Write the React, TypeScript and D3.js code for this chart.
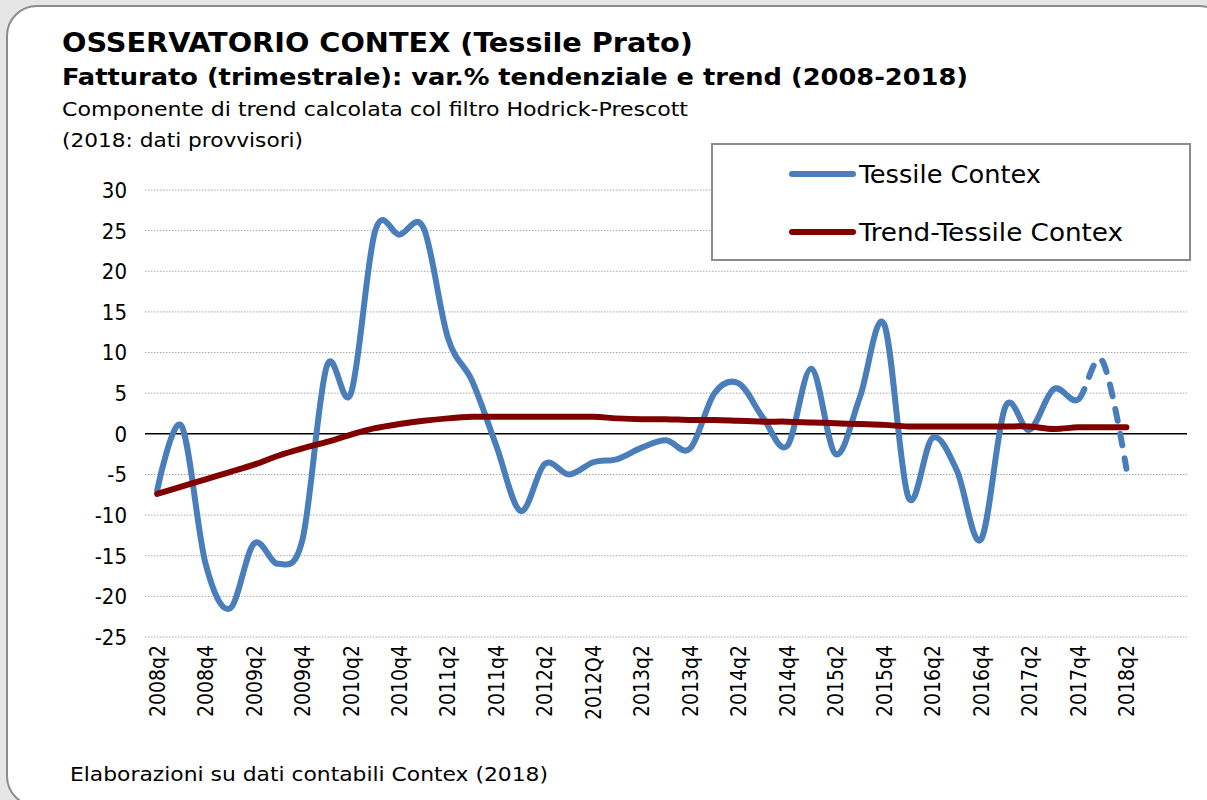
import React, { useEffect, useRef } from 'react';
import * as d3 from 'd3';

// quarters on the category axis (2008q2 .. 2018q2)
const quarters = [
  '2008q2', '2008q3', '2008q4', '2009q1', '2009q2', '2009q3', '2009q4', '2010q1',
  '2010q2', '2010q3', '2010q4', '2011q1', '2011q2', '2011q3', '2011q4', '2012q1',
  '2012q2', '2012q3', '2012Q4', '2013q1', '2013q2', '2013q3', '2013q4', '2014q1',
  '2014q2', '2014q3', '2014q4', '2015q1', '2015q2', '2015q3', '2015q4', '2016q1',
  '2016q2', '2016q3', '2016q4', '2017q1', '2017q2', '2017q3', '2017q4', '2018q1',
  '2018q2',
];
// two empty slots Excel leaves at the right end of the axis
const emptySlots = ['2018q3', '2018q4'];

const tessile = [
  -7.0, 1.0, -16.0, -21.5, -13.5, -16.0, -13.0, 8.3, 5.0, 25.0, 24.5, 25.3, 11.8, 6.5,
  -1.5, -9.5, -3.7, -5.0, -3.5, -3.1, -1.7, -0.8, -1.8, 5.0, 6.2, 2.0, -1.5, 8.0, -2.5,
  4.5, 13.5, -7.8, -0.5, -4.5, -13.0, 3.3, 0.5, 5.5, 4.2, 9.0, -4.3,
];

const trend = [
  -7.4, -6.5, -5.6, -4.7, -3.8, -2.7, -1.8, -1.0, -0.1, 0.7, 1.2, 1.6, 1.9, 2.1, 2.1,
  2.1, 2.1, 2.1, 2.1, 1.9, 1.8, 1.8, 1.7, 1.7, 1.6, 1.5, 1.5, 1.4, 1.3, 1.2, 1.1, 0.9,
  0.9, 0.9, 0.9, 0.9, 0.9, 0.6, 0.8, 0.8, 0.8,
];

const yTicks = [-25, -20, -15, -10, -5, 0, 5, 10, 15, 20, 25, 30];
const provisionalFrom = '2017q4';

const seriesNames = ['Tessile Contex', 'Trend-Tessile Contex'];
const BLUE = '#4a7ebb';
const RED = '#800000';
const FONT = '"DejaVu Sans Condensed", "DejaVu Sans", sans-serif';

export default function App() {
  const ref = useRef<SVGSVGElement>(null);

  useEffect(() => {
    const svg = d3.select(ref.current);
    svg.selectAll('*').remove();

    // card
    svg.append('rect').attr('width', 1207).attr('height', 800).attr('fill', '#e6e6e6');
    svg.append('rect')
      .attr('x', 7).attr('y', 6).attr('width', 1222).attr('height', 800)
      .attr('rx', 30).attr('ry', 30)
      .attr('fill', '#fff').attr('stroke', '#8c8c8c').attr('stroke-width', 2);

    // titles
    const titles = [
      { t: 'OSSERVATORIO CONTEX (Tessile Prato)', y: 52, size: 26, w: 631, bold: true },
      { t: 'Fatturato (trimestrale): var.% tendenziale e trend (2008-2018)', y: 85, size: 23, w: 906, bold: true },
      { t: 'Componente di trend calcolata col filtro Hodrick-Prescott', y: 116, size: 19.5, w: 626, bold: false },
      { t: '(2018: dati provvisori)', y: 147, size: 19.5, w: 241, bold: false },
    ];
    titles.forEach(d => {
      svg.append('text')
        .attr('x', 62).attr('y', d.y)
        .attr('font-family', FONT)
        .attr('font-size', d.size)
        .attr('font-weight', d.bold ? 'bold' : 'normal')
        .attr('textLength', d.w)
        .attr('lengthAdjust', 'spacingAndGlyphs')
        .text(d.t);
    });

    const x = d3.scaleBand<string>()
      .domain(quarters.concat(emptySlots))
      .range([145, 1187])
      .padding(0);
    const y = d3.scaleLinear().domain([-25, 30]).range([637, 190]);
    const cx = (q: string) => (x(q) as number) + x.bandwidth() / 2;

    // gridlines
    svg.append('g').selectAll('line')
      .data(yTicks.filter(v => v !== 0))
      .enter().append('line')
      .attr('x1', 145).attr('x2', 1187)
      .attr('y1', d => y(d)).attr('y2', d => y(d))
      .attr('stroke', '#a6a6a6')
      .attr('stroke-width', 1)
      .attr('stroke-dasharray', '1.5,1.5');

    // y tick labels
    svg.append('g').selectAll('text')
      .data(yTicks)
      .enter().append('text')
      .attr('x', 127)
      .attr('y', d => y(d))
      .attr('dy', '0.36em')
      .attr('text-anchor', 'end')
      .attr('font-family', FONT)
      .attr('font-size', 22)
      .text(d => d);

    // zero line
    svg.append('line')
      .attr('x1', 145).attr('x2', 1187)
      .attr('y1', y(0)).attr('y2', y(0))
      .attr('stroke', '#000').attr('stroke-width', 1.5);

    // x labels, every second quarter
    svg.append('g').selectAll('text')
      .data(quarters.filter((d, i) => i % 2 === 0))
      .enter().append('text')
      .attr('transform', d => `translate(${cx(d)},645) rotate(-90)`)
      .attr('dy', '0.36em')
      .attr('text-anchor', 'end')
      .attr('font-family', FONT)
      .attr('font-size', 21)
      .text(d => d);

    // lines
    const line = d3.line<number>()
      .x((d, i) => cx(quarters[i]))
      .y(d => y(d))
      .curve(d3.curveCardinal.tension(0));

    // 2018 data are provisional: dashed from 2017q4 on
    const splitX = cx(provisionalFrom);
    const defs = svg.append('defs');
    defs.append('clipPath').attr('id', 'solid-part')
      .append('rect').attr('x', 0).attr('y', 0).attr('width', splitX).attr('height', 800);
    defs.append('clipPath').attr('id', 'dashed-part')
      .append('rect').attr('x', splitX).attr('y', 0).attr('width', 1207 - splitX).attr('height', 800);

    svg.append('path')
      .attr('d', line(tessile))
      .attr('fill', 'none')
      .attr('stroke', BLUE)
      .attr('stroke-width', 6)
      .attr('stroke-linejoin', 'round')
      .attr('stroke-linecap', 'round')
      .attr('clip-path', 'url(#solid-part)');

    svg.append('path')
      .attr('d', line(tessile))
      .attr('fill', 'none')
      .attr('stroke', BLUE)
      .attr('stroke-width', 6)
      .attr('stroke-linecap', 'round')
      .attr('stroke-dasharray', '12,13')
      .attr('clip-path', 'url(#dashed-part)');

    svg.append('path')
      .attr('d', line(trend))
      .attr('fill', 'none')
      .attr('stroke', RED)
      .attr('stroke-width', 6)
      .attr('stroke-linejoin', 'round')
      .attr('stroke-linecap', 'round');

    // legend
    const lg = svg.append('g');
    lg.append('rect')
      .attr('x', 712).attr('y', 144).attr('width', 478).attr('height', 116)
      .attr('fill', '#fff').attr('stroke', '#8c8c8c').attr('stroke-width', 2);
    seriesNames.forEach((name, i) => {
      const ly = 174 + i * 58;
      lg.append('line')
        .attr('x1', 792).attr('x2', 853).attr('y1', ly).attr('y2', ly)
        .attr('stroke', i === 0 ? BLUE : RED)
        .attr('stroke-width', 6)
        .attr('stroke-linecap', 'round');
      lg.append('text')
        .attr('x', 859).attr('y', ly)
        .attr('dy', '0.36em')
        .attr('font-family', FONT)
        .attr('font-size', 25)
        .attr('textLength', i === 0 ? 182 : 264)
        .attr('lengthAdjust', 'spacingAndGlyphs')
        .text(name);
    });

    // footer
    svg.append('text')
      .attr('x', 70).attr('y', 781)
      .attr('font-family', FONT)
      .attr('font-size', 19.5)
      .attr('textLength', 478)
      .attr('lengthAdjust', 'spacingAndGlyphs')
      .text('Elaborazioni su dati contabili Contex (2018)');
  }, []);

  return (
    <svg
      ref={ref}
      width={1207}
      height={800}
      style={{ position: 'fixed', left: 0, top: 0, display: 'block' }}
    />
  );
}
